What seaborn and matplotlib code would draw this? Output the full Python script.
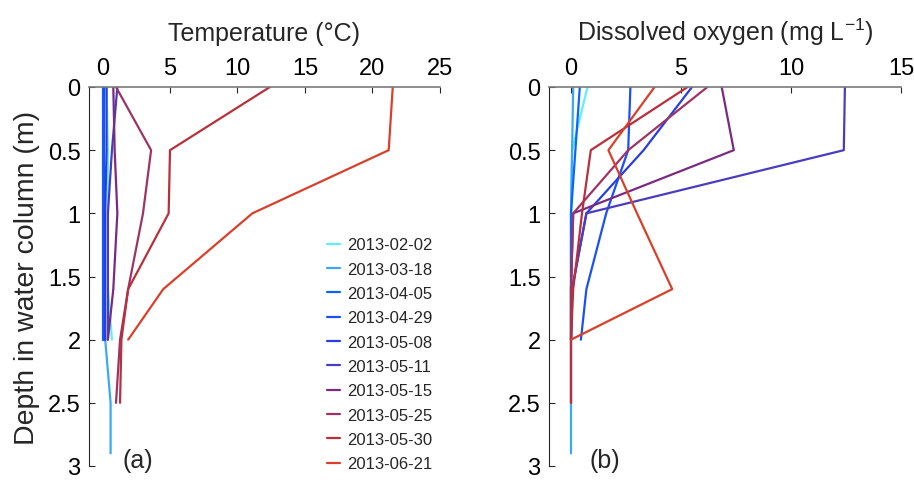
import numpy as np
import pandas as pd
import matplotlib
matplotlib.use("Agg")
import matplotlib.pyplot as plt
import seaborn as sns

# sampling dates and line colours
dates = ["2013-02-02", "2013-03-18", "2013-04-05", "2013-04-29", "2013-05-08",
         "2013-05-11", "2013-05-15", "2013-05-25", "2013-05-30", "2013-06-21"]
colors = ["#5ef0f5", "#3aa8f5", "#0a64ff", "#1a50f5", "#2a3ee0",
          "#4a3cc0", "#7a2a80", "#9e3464", "#b8303c", "#d8402a"]

# depths (m) for each profile
depth_std = [0, 0.5, 1, 1.6, 2]
depth_long = [0, 0.5, 1, 1.6, 2, 2.5]
depth_0318 = [0, 0.5, 1, 1.6, 2, 2.5, 2.9]
depths = [depth_std, depth_0318, depth_std, depth_std, depth_std,
          depth_std, depth_std, depth_long, depth_long, depth_std]

# temperature (deg C)
temp_0202 = [0.3, 0.4, 0.4, 0.4, 0.7]
temp_0318 = [0.1, 0.1, 0.1, 0.1, 0.2, 0.6, 0.6]
temp_0405 = [0.0, 0.0, 0.0, 0.0, 0.0]
temp_0429 = [0.1, 0.1, 0.1, 0.1, 0.1]
temp_0508 = [0.3, 0.3, 0.2, 0.2, 0.2]
temp_0511 = [1.1, 0.7, 0.4, 0.4, 0.4]
temp_0515 = [0.8, 0.9, 1.1, 0.8, 0.4]
temp_0525 = [1.0, 3.6, 3.0, 1.9, 1.3, 1.0]
temp_0530 = [12.4, 5.0, 4.9, 1.9, 1.4, 1.3]
temp_0621 = [21.5, 21.2, 11.1, 4.5, 1.9]
temps = [temp_0202, temp_0318, temp_0405, temp_0429, temp_0508,
         temp_0511, temp_0515, temp_0525, temp_0530, temp_0621]

# dissolved oxygen (mg/L)
do_0202 = [0.75, 0.05, 0.0, 0.0, 0.0]
do_0318 = [0.1, 0.05, 0.0, 0.0, 0.0, 0.0, 0.0]
do_0405 = [0.4, 0.2, 0.0, 0.0, 0.0]
do_0429 = [2.7, 2.6, 1.6, 0.7, 0.45]
do_0508 = [5.5, 3.3, 0.7, 0.05, 0.0]
do_0511 = [12.45, 12.4, 0.7, 0.05, 0.0]
do_0515 = [6.85, 7.4, 0.1, 0.0, 0.0]
do_0525 = [6.2, 2.6, 0.1, 0.0, 0.0, 0.0]
do_0530 = [5.3, 0.9, 0.5, 0.1, 0.0, 0.0]
do_0621 = [3.8, 1.7, 3.0, 4.6, 0.0]
dos = [do_0202, do_0318, do_0405, do_0429, do_0508,
       do_0511, do_0515, do_0525, do_0530, do_0621]

rows = []
for d, dep, t, o in zip(dates, depths, temps, dos):
    for i in range(len(dep)):
        rows.append({"date": d, "depth": dep[i], "temp": t[i], "do": o[i]})
df = pd.DataFrame(rows)

sns.set_style("white")
plt.rcParams["font.family"] = ["Liberation Sans", "DejaVu Sans"]
plt.rcParams["mathtext.fontset"] = "custom"
plt.rcParams["mathtext.rm"] = "Liberation Sans"
plt.rcParams["mathtext.it"] = "Liberation Sans"

fig = plt.figure(figsize=(9.14, 4.81), dpi=100)
ax1 = fig.add_axes([89/914, 14/481, 351/914, 379/481])
ax2 = fig.add_axes([549/914, 14/481, 352/914, 379/481])
pal = dict(zip(dates, colors))

sns.lineplot(data=df, x="temp", y="depth", hue="date", hue_order=dates, palette=pal,
             sort=False, orient="y", estimator=None, units="date", lw=1.6, ax=ax1)
sns.lineplot(data=df, x="do", y="depth", hue="date", hue_order=dates, palette=pal,
             sort=False, orient="y", estimator=None, units="date", lw=1.6, ax=ax2, legend=False)

for ax, xl, xt, lab in [(ax1, (-1, 25), [0, 5, 10, 15, 20, 25], "(a)"),
                        (ax2, (-1, 15), [0, 5, 10, 15], "(b)")]:
    ax.set_xlim(*xl)
    ax.set_ylim(3, 0)
    ax.set_xticks(xt)
    ax.set_yticks([0, 0.5, 1, 1.5, 2, 2.5, 3])
    ax.set_yticklabels(["0", "0.5", "1", "1.5", "2", "2.5", "3"], va="center_baseline")
    ax.xaxis.tick_top()
    ax.xaxis.set_label_position("top")
    ax.tick_params(direction="in", length=4, width=0.8, labelsize=17, colors="#262626",
                   top=True, bottom=False, left=True, right=False, pad=6)
    ax.tick_params(axis="both", labelcolor="black")
    for s in ["right", "bottom"]:
        ax.spines[s].set_visible(False)
    ax.spines["left"].set_color("#262626")
    ax.spines["top"].set_color("#7a7a7a")
    ax.spines["left"].set_linewidth(0.8)
    ax.spines["top"].set_linewidth(1.2)
    ax.text(0.095 if ax is ax1 else 0.115, -0.015, lab, transform=ax.transAxes, fontsize=18,
            ha="left", va="bottom")

ax1.set_xlabel("Temperature (°C)", fontsize=18, labelpad=12)
ax2.set_xlabel("Dissolved oxygen (mg L$^{-1}$)", fontsize=18, labelpad=12)
ax1.set_ylabel("Depth in water column (m)", fontsize=20.5, labelpad=6)
ax2.set_ylabel("")

h, l = ax1.get_legend_handles_labels()
ax1.legend(h, l, loc="upper left", bbox_to_anchor=(319/914, 1 - 230/481),
           bbox_transform=fig.transFigure, frameon=False, fontsize=12,
           handlelength=0.75, handletextpad=0.45, labelspacing=0.56, borderpad=0)

fig.savefig("out.png", dpi=100)
